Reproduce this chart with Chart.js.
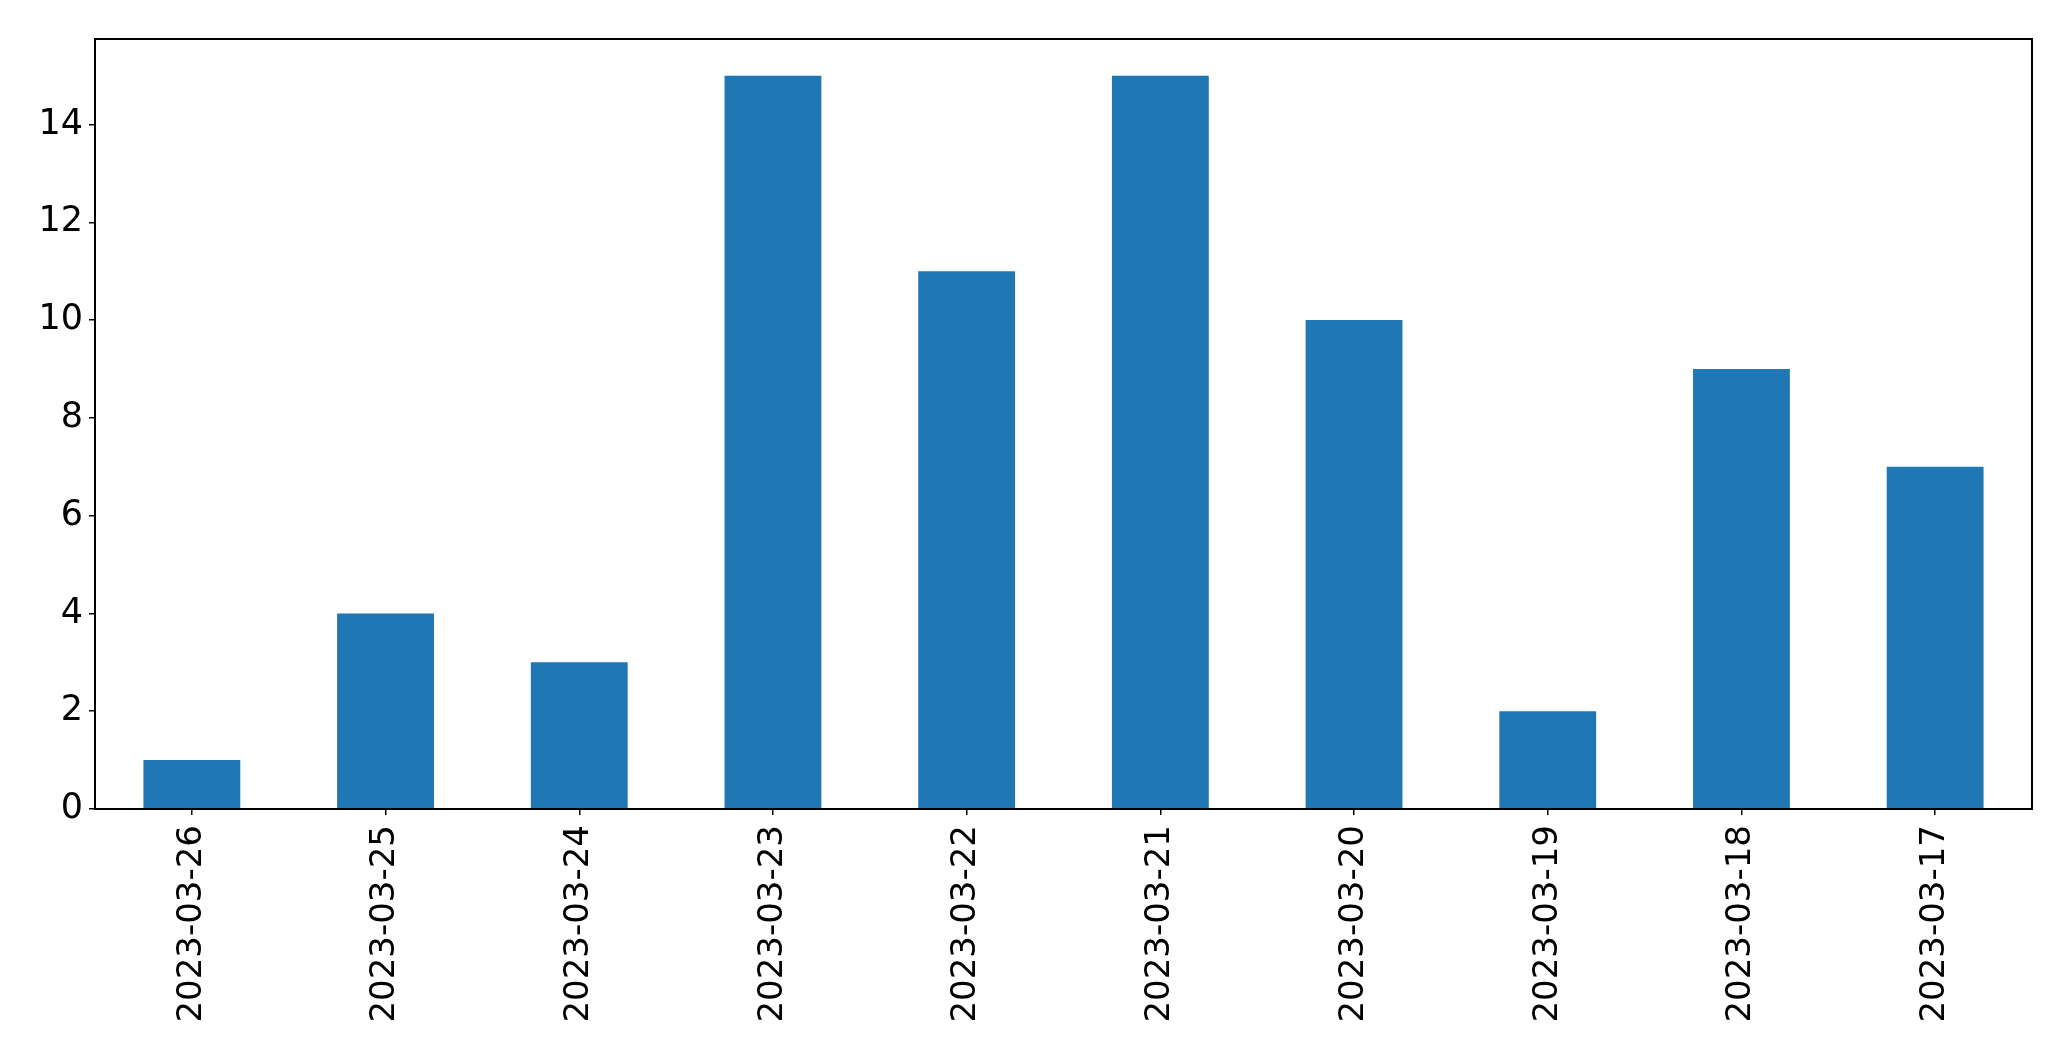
<!DOCTYPE html>
<html>
<head>
<meta charset="utf-8">
<script src="https://cdn.jsdelivr.net/npm/chart.js@4/dist/chart.umd.min.js"></script>
<style>
    html, body { margin: 0; padding: 0; background: #fff; }
    canvas { display: block; }
</style>
</head>
<body>
<canvas id="chart" width="2071" height="1061"></canvas>
<script>
// dates as they appear on the x axis, newest first
const dates = ['2023-03-26', '2023-03-25', '2023-03-24', '2023-03-23', '2023-03-22',
    '2023-03-21', '2023-03-20', '2023-03-19', '2023-03-18', '2023-03-17'];
const counts = [1, 4, 3, 15, 11, 15, 10, 2, 9, 7];
const yTicks = [0, 2, 4, 6, 8, 10, 12, 14];

// matplotlib-style frame around the plot area
const framePlugin = {
    id: 'frame',
    afterDraw(chart) {
        const { ctx, chartArea: a } = chart;
        ctx.save();
        ctx.strokeStyle = '#000';
        ctx.lineWidth = 2;
        ctx.strokeRect(a.left, a.top, a.right - a.left, a.bottom - a.top);
        ctx.restore();
    },
};

new Chart(document.getElementById('chart'), {
    type: 'bar',
    data: {
        labels: dates,
        datasets: [{
            data: counts,
            backgroundColor: '#1f77b4',
            borderWidth: 0,
            barPercentage: 0.5,
            categoryPercentage: 1,
        }],
    },
    options: {
        responsive: false,
        animation: false,
        layout: { padding: { left: 0, top: 39, right: 39, bottom: 0 } },
        plugins: { legend: { display: false }, tooltip: { enabled: false } },
        scales: {
            x: {
                offset: true,
                grid: { offset: false, drawOnChartArea: false, color: '#000', lineWidth: 1.5, tickLength: 6 },
                border: { display: false },
                ticks: {
                    color: '#000',
                    font: { family: 'DejaVu Sans', size: 34 },
                    minRotation: 90,
                    maxRotation: 90,
                    padding: 10,
                    autoSkip: false,
                },
                afterFit(scale) { scale.height = 252; },
            },
            y: {
                min: 0,
                max: 15.75,
                grid: { drawOnChartArea: false, color: '#000', lineWidth: 1.5, tickLength: 6 },
                border: { display: false },
                afterBuildTicks(scale) { scale.ticks = yTicks.map((v) => ({ value: v })); },
                ticks: { color: '#000', font: { family: 'DejaVu Sans', size: 35 }, padding: 6 },
                afterFit(scale) { scale.width = 95; },
            },
        },
    },
    plugins: [framePlugin],
});
</script>
</body>
</html>
